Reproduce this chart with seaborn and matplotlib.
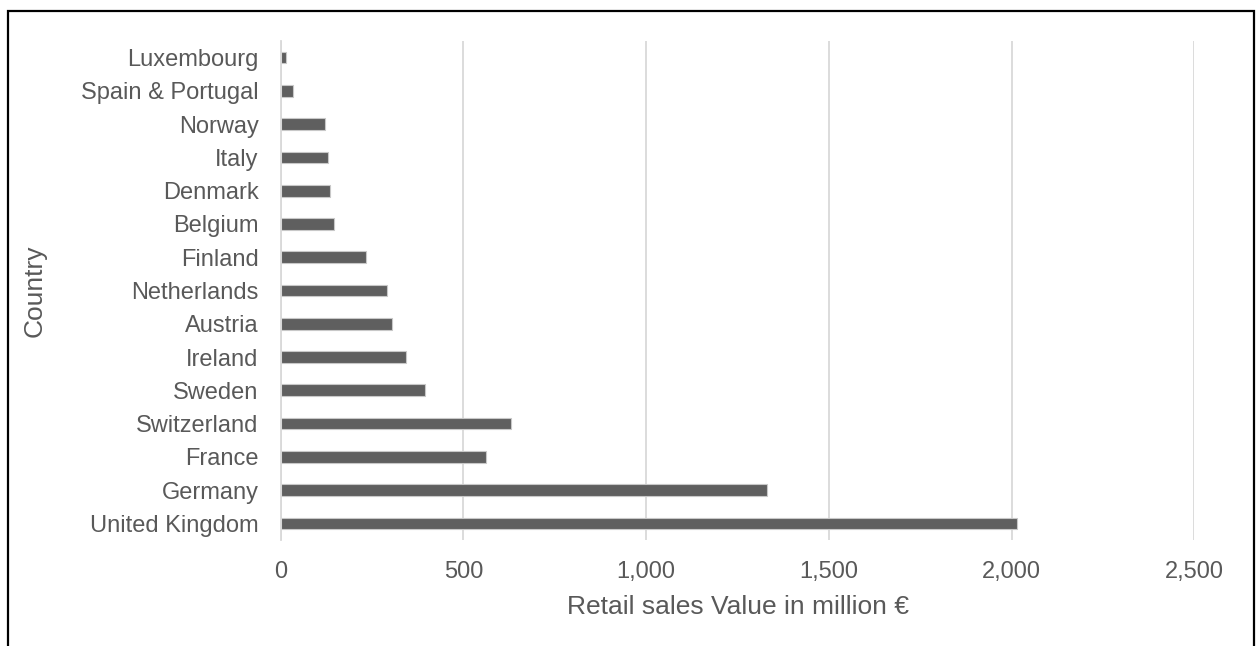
import matplotlib
matplotlib.use("Agg")
import matplotlib.pyplot as plt
import seaborn as sns
import pandas as pd
from matplotlib.patches import Rectangle

countries = ["Luxembourg", "Spain & Portugal", "Norway", "Italy", "Denmark",
             "Belgium", "Finland", "Netherlands", "Austria", "Ireland",
             "Sweden", "Switzerland", "France", "Germany", "United Kingdom"]
values = [14, 34, 120, 130, 135, 145, 233, 291, 304, 342, 394, 630, 561, 1330, 2015]
x_ticks = [0, 500, 1000, 1500, 2000, 2500]
x_tick_labels = ["0", "500", "1,000", "1,500", "2,000", "2,500"]

df = pd.DataFrame({"Country": countries, "Value": values})

sns.set_theme(style="white")
plt.rcParams["font.family"] = ["Liberation Sans", "DejaVu Sans"]

text_color = "#595959"
fig = plt.figure(figsize=(12.59, 6.46), dpi=100)
ax = fig.add_axes([0.2230, 0.1641, 0.7257, 0.7724])

sns.barplot(data=df, x="Value", y="Country", order=countries, orient="h",
            color="#5f5f5f", saturation=1, width=0.35,
            edgecolor="#c8c8c8", linewidth=0.8, ax=ax, zorder=3)

ax.set_xlim(0, 2500)
ax.set_ylim(len(countries) - 0.5, -0.5)
ax.set_xticks(x_ticks)
ax.set_xticklabels(x_tick_labels)
ax.grid(axis="x", color="#d9d9d9", linewidth=1.3, zorder=0)
ax.grid(axis="y", visible=False)
for s in ["top", "right", "bottom"]:
    ax.spines[s].set_visible(False)
ax.spines["left"].set_color("#d9d9d9")
ax.spines["left"].set_linewidth(1.3)
ax.spines["left"].set_zorder(4)
ax.tick_params(axis="both", length=0, labelsize=17, labelcolor=text_color)
ax.tick_params(axis="y", pad=16)
ax.tick_params(axis="x", pad=15)

ax.set_xlabel("Retail sales Value in million €", fontsize=19, color=text_color, va="center")
ax.set_ylabel("Country", fontsize=19, color=text_color, va="center")
ax.xaxis.set_label_coords(0.5, -0.134)
ax.yaxis.set_label_coords(-0.269, 0.5)

# outer border
fig.add_artist(Rectangle((8 / 1259, -0.05), (1254 - 8) / 1259, 1.05 - 11 / 646,
                         transform=fig.transFigure, fill=False,
                         edgecolor="black", linewidth=1.6, clip_on=False))

fig.savefig("out.png", dpi=100)
